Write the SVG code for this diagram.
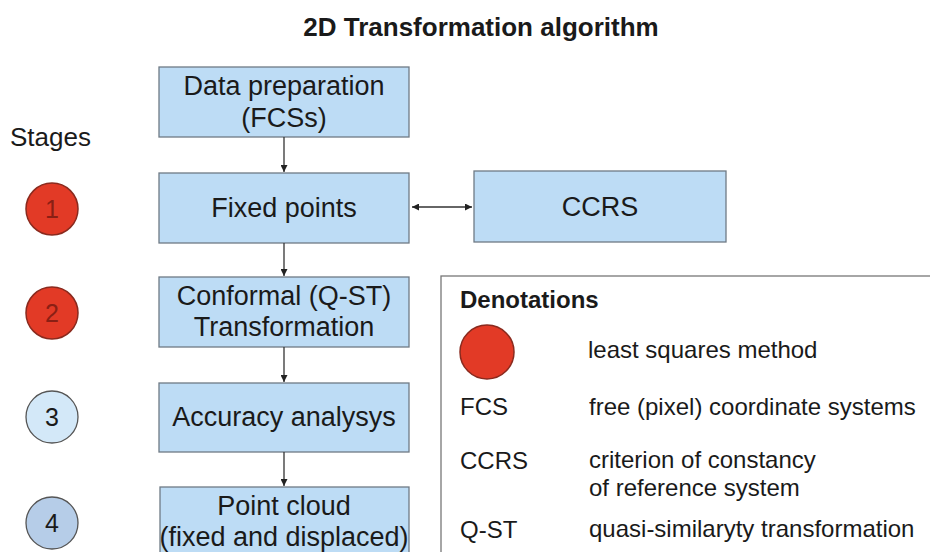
<svg xmlns="http://www.w3.org/2000/svg" width="930" height="552" viewBox="0 0 930 552">
<defs>
<marker id="ah" viewBox="0 0 10 10" refX="10" refY="5" markerWidth="7" markerHeight="7" orient="auto-start-reverse" markerUnits="userSpaceOnUse">
<path d="M0,0 L10,5 L0,10 z" fill="#222"/>
</marker>
<style>
text{font-family:"Liberation Sans",Arial,sans-serif;fill:#1a1a1a}
.box{fill:#bddcf5;stroke:#6f7a85;stroke-width:1.3}
.bt{font-size:27px;text-anchor:middle}
.lt{font-size:24px}
.red{fill:#e23a26;stroke:#8a2a1e;stroke-width:1.5}
.num{font-size:25px;text-anchor:middle}
.con{stroke:#333;stroke-width:1.3;fill:none;marker-end:url(#ah)}
</style>
</defs>
<rect width="930" height="552" fill="#fff"/>
<text x="481" y="36" style="font-size:26px;font-weight:bold;text-anchor:middle">2D Transformation algorithm</text>
<text x="10" y="146" style="font-size:26px">Stages</text>

<g id="stage1"><circle class="red" cx="52" cy="209" r="26"/><text class="num" x="52" y="218" style="fill:#8a1f14">1</text></g>
<g id="stage2"><circle class="red" cx="52" cy="313" r="26"/><text class="num" x="52" y="322" style="fill:#8a1f14">2</text></g>
<g id="stage3"><circle cx="52" cy="417" r="26" fill="#d3e8f8" stroke="#555" stroke-width="1.3"/><text class="num" x="52" y="426">3</text></g>
<g id="stage4"><circle cx="52" cy="523" r="26" fill="#b6cde8" stroke="#555" stroke-width="1.3"/><text class="num" x="52" y="532">4</text></g>

<g id="data-prep"><rect class="box" x="159" y="67" width="250" height="70"/><text class="bt" x="284" y="95">Data preparation</text><text class="bt" x="284" y="127">(FCSs)</text></g>
<g id="fixed-points"><rect class="box" x="159" y="173" width="250" height="70"/><text class="bt" x="284" y="217">Fixed points</text></g>
<g id="ccrs"><rect class="box" x="474" y="171" width="252" height="71"/><text class="bt" x="600" y="216">CCRS</text></g>
<g id="conformal"><rect class="box" x="159" y="277" width="250" height="70"/><text class="bt" x="284" y="305">Conformal (Q-ST)</text><text class="bt" x="284" y="336">Transformation</text></g>
<g id="accuracy"><rect class="box" x="159" y="383" width="250" height="69"/><text class="bt" x="284" y="426">Accuracy analysys</text></g>
<g id="point-cloud"><rect class="box" x="160" y="487" width="249" height="80"/><text class="bt" x="284" y="515">Point cloud</text><text class="bt" x="284" y="546">(fixed and displaced)</text></g>

<g id="connectors">
<line class="con" x1="284" y1="137" x2="284" y2="172"/>
<line class="con" x1="284" y1="243" x2="284" y2="276"/>
<line class="con" x1="284" y1="347" x2="284" y2="382"/>
<line class="con" x1="284" y1="452" x2="284" y2="486"/>
<line class="con" x1="412" y1="207" x2="472" y2="207" style="marker-start:url(#ah)"/>
</g>

<g id="legend">
<rect x="441" y="276" width="500" height="290" fill="#fff" stroke="#777" stroke-width="1.3"/>
<text x="460" y="308" style="font-size:24px;font-weight:bold">Denotations</text>
<circle class="red" cx="487" cy="352" r="27"/>
<text class="lt" x="588" y="358">least squares method</text>
<text class="lt" x="460" y="415">FCS</text>
<text class="lt" x="589" y="415">free (pixel) coordinate systems</text>
<text class="lt" x="460" y="469">CCRS</text>
<text class="lt" x="589" y="468">criterion of constancy</text>
<text class="lt" x="589" y="496">of reference system</text>
<text class="lt" x="460" y="538">Q-ST</text>
<text class="lt" x="589" y="537">quasi-similaryty transformation</text>
</g>
</svg>
